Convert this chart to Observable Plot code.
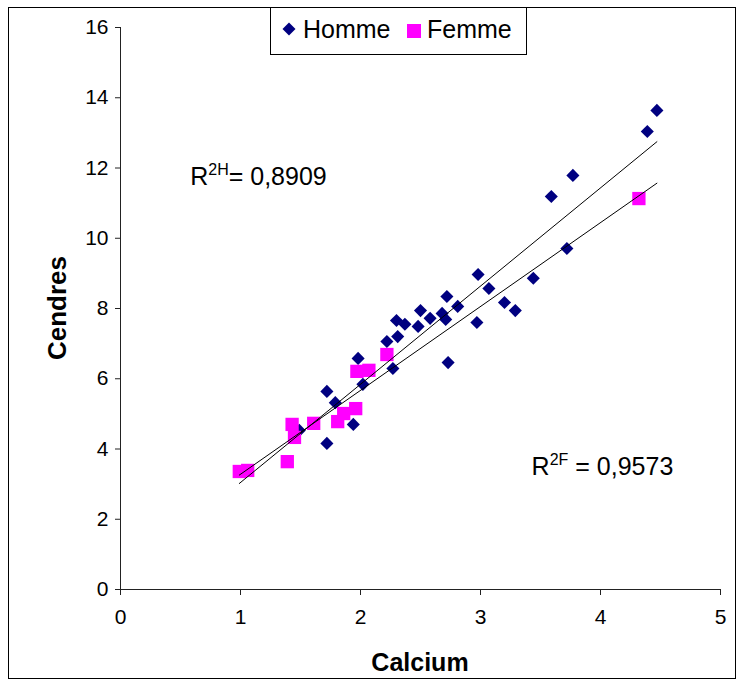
<!DOCTYPE html>
<html>
<head>
<meta charset="utf-8">
<script src="https://cdn.jsdelivr.net/npm/d3@7"></script>
<script src="https://cdn.jsdelivr.net/npm/@observablehq/plot@0.6"></script>
<style>
  html, body { margin: 0; padding: 0; background: #fff; }
  body { font-family: "Liberation Sans", Arial, sans-serif; }
  #wrap { position: relative; width: 738px; height: 683px; overflow: hidden; }
  #frame { position: absolute; left: 8px; top: 7px; width: 728px; height: 672px; border: 1px solid #000; box-sizing: border-box; }
  #chart { position: absolute; left: 0; top: 0; }
  #legend { position: absolute; left: 270px; top: 7px; width: 257px; height: 48px; border: 1px solid #000; box-sizing: border-box; background: #fff; font-size: 25px; color: #000; }
  #legend .it { position: absolute; top: 0; height: 42px; line-height: 42px; white-space: nowrap; }
  #legend svg { position: absolute; }
</style>
</head>
<body>
<div id="wrap">
  <div id="frame"></div>
  <div id="chart"></div>
  <div id="legend"></div>
</div>
<script>
// ---- Data ----
const hommeCalcium = [4.47, 4.39, 3.77, 3.59, 3.72, 3.44, 2.98, 3.07, 3.20, 3.29, 2.97, 2.72, 2.81, 2.68, 2.71, 2.50, 2.58, 2.48, 2.30, 2.37, 2.31, 2.22, 2.27, 2.73, 1.98, 2.02, 1.72, 1.79, 1.94, 1.72, 1.49];
const hommeCendres = [13.64, 13.04, 11.79, 11.19, 9.71, 8.86, 8.97, 8.57, 8.17, 7.94, 7.60, 8.34, 8.06, 7.86, 7.69, 7.94, 7.72, 7.49, 7.66, 7.55, 7.20, 7.06, 6.29, 6.46, 6.58, 5.84, 5.64, 5.32, 4.70, 4.16, 4.53];
const femmeCalcium = [0.99, 1.06, 1.39, 1.43, 1.45, 1.61, 1.81, 1.86, 1.96, 1.97, 2.07, 2.22, 4.32];
const femmeCendres = [3.36, 3.39, 3.64, 4.70, 4.33, 4.73, 4.78, 5.01, 5.15, 6.21, 6.24, 6.69, 11.13];

const seriesNames = ["Homme", "Femme"];
const seriesColors = ["#000080", "#FF00FF"];
const trendSlope = [2.796, 2.388];
const trendIntercept = [0.25, 0.893];
const trendRange = [0.99, 4.47];
const r2Labels = ["2H", "2F"];
const r2Values = ["= 0,8909", " = 0,9573"];
const r2AtX = [0.585, 3.43];
const r2AtY = [11.5, 3.25];

const xTicks = [0, 1, 2, 3, 4, 5];
const yTicks = [0, 2, 4, 6, 8, 10, 12, 14, 16];
const xTitle = "Calcium";
const yTitle = "Cendres";

// ---- Tables built from the arrays ----
const homme = hommeCalcium.map((x, i) => ({x, y: hommeCendres[i]}));
const femme = femmeCalcium.map((x, i) => ({x, y: femmeCendres[i]}));
const trend = seriesNames.flatMap((s, i) => trendRange.map(x => ({s, x, y: trendSlope[i] * x + trendIntercept[i]})));

const font = "'Liberation Sans', Arial, sans-serif";
const W = 738, H = 683;

const plot = Plot.plot({
  width: W,
  height: H,
  marginLeft: 120,
  marginRight: 18,
  marginTop: 27,
  marginBottom: 94,
  x: {domain: [0, 5]},
  y: {domain: [0, 16]},
  style: {fontFamily: font, fontSize: "21px", background: "transparent", color: "#000"},
  marks: [
    Plot.axisX({ticks: xTicks, tickSize: 6, tickPadding: 14, label: null, stroke: "#222", tickFormat: d => String(d)}),
    Plot.axisY({ticks: yTicks, tickSize: 5, tickPadding: 7, label: null, stroke: "#222", tickFormat: d => String(d)}),
    Plot.ruleX([0], {stroke: "#222", strokeWidth: 1}),
    Plot.ruleY([0], {stroke: "#222", strokeWidth: 1}),
    Plot.dot(homme, {x: "x", y: "y", symbol: "diamond2", r: 5.9, fill: seriesColors[0], stroke: "none"}),
    Plot.dot(femme, {x: "x", y: "y", symbol: "square", r: 7.5, fill: seriesColors[1], stroke: "none"}),
    Plot.line(trend, {x: "x", y: "y", z: "s", stroke: "#000", strokeWidth: 1})
  ]
});
document.getElementById("chart").appendChild(plot);

// ---- Titles and R² annotations positioned through the scales ----
const sx = plot.scale("x"), sy = plot.scale("y");
const svg = d3.select(plot);
const xr = sx.range, yr = sy.range;

svg.append("text")
  .attr("x", (xr[0] + xr[1]) / 2)
  .attr("y", yr[0] + 82)
  .attr("text-anchor", "middle")
  .attr("font-family", font).attr("font-size", 25).attr("font-weight", "bold")
  .text(xTitle);

svg.append("text")
  .attr("transform", `translate(${xr[0] - 54},${(yr[0] + yr[1]) / 2}) rotate(-90)`)
  .attr("text-anchor", "middle")
  .attr("font-family", font).attr("font-size", 26).attr("font-weight", "bold")
  .text(yTitle);

r2Labels.forEach((lab, i) => {
  const t = svg.append("text")
    .attr("x", sx.apply(r2AtX[i]))
    .attr("y", sy.apply(r2AtY[i]))
    .attr("text-anchor", "start")
    .attr("font-family", font).attr("font-size", 25);
  t.append("tspan").text("R");
  t.append("tspan").attr("font-size", 16).attr("dy", -10).text(lab);
  t.append("tspan").attr("dy", 10).text(r2Values[i]);
});

// ---- Legend ----
const legend = d3.select("#legend");
const itemLeft = [10, 135];
const textLeft = [32, 156];
seriesNames.forEach((name, i) => {
  const sw = legend.append("svg").attr("width", 16).attr("height", 16)
    .style("left", itemLeft[i] + "px").style("top", (i === 0 ? 13 : 15) + "px");
  if (i === 0) {
    sw.append("path").attr("d", "M8,1.5L14.5,8L8,14.5L1.5,8Z").attr("fill", seriesColors[0]);
  } else {
    sw.append("rect").attr("x", 1).attr("y", 1).attr("width", 14).attr("height", 14).attr("fill", seriesColors[1]);
  }
  legend.append("div").attr("class", "it").style("left", textLeft[i] + "px").text(name);
});
</script>
</body>
</html>
